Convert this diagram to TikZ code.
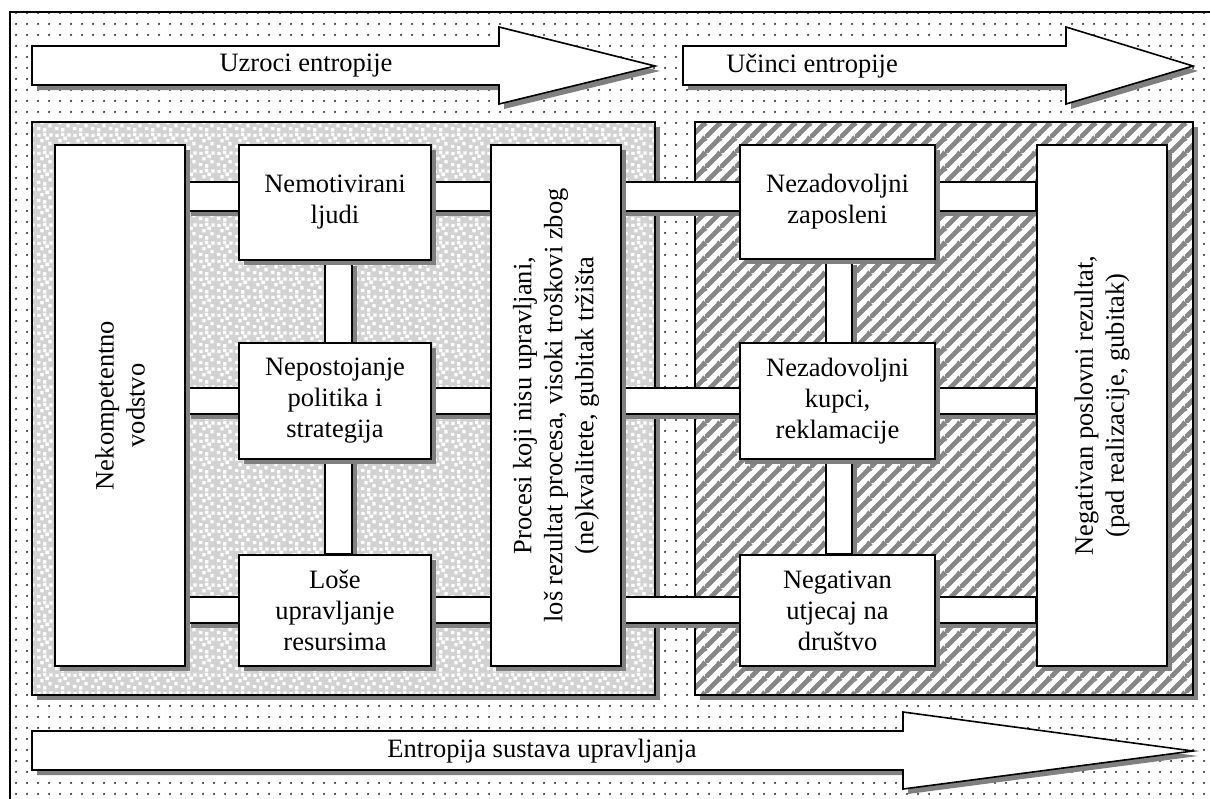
\documentclass[tikz,border=0pt]{standalone}
\usepackage{fontspec}
\setmainfont{Liberation Serif}
\usetikzlibrary{patterns,shadows}
\definecolor{shadowgray}{RGB}{128,128,128}
\definecolor{speckgray}{RGB}{210,210,210}
\definecolor{stripegray}{RGB}{135,135,135}
\definecolor{dotgray}{RGB}{50,50,50}
\newcommand\dfont{\fontsize{26.5pt}{31pt}\selectfont}
\pgfdeclarepatternformonly{bgdots}{\pgfpointorigin}{\pgfpoint{11pt}{11pt}}{\pgfpoint{11pt}{11pt}}{%
  \pgfpathcircle{\pgfpoint{5.5pt}{5.5pt}}{1.3pt}\pgfusepath{fill}}
\pgfdeclarepatternformonly{speckle}{\pgfpointorigin}{\pgfpoint{18pt}{18pt}}{\pgfpoint{18pt}{18pt}}{%
  \pgfpathrectangle{\pgfpoint{1pt}{2pt}}{\pgfpoint{3.5pt}{3.5pt}}%
  \pgfpathrectangle{\pgfpoint{7.5pt}{0.5pt}}{\pgfpoint{3.5pt}{3.5pt}}%
  \pgfpathrectangle{\pgfpoint{13pt}{5pt}}{\pgfpoint{3.5pt}{3.5pt}}%
  \pgfpathrectangle{\pgfpoint{4.5pt}{8pt}}{\pgfpoint{3.5pt}{3.5pt}}%
  \pgfpathrectangle{\pgfpoint{10pt}{10.5pt}}{\pgfpoint{3.5pt}{3.5pt}}%
  \pgfpathrectangle{\pgfpoint{14pt}{14pt}}{\pgfpoint{3.5pt}{3.5pt}}%
  \pgfpathrectangle{\pgfpoint{1.5pt}{13.5pt}}{\pgfpoint{3.5pt}{3.5pt}}%
  \pgfpathrectangle{\pgfpoint{7.5pt}{14.5pt}}{\pgfpoint{3.5pt}{3.5pt}}%
  \pgfusepath{fill}}
\pgfdeclarepatternformonly{stripes}{\pgfpointorigin}{\pgfpoint{15pt}{15pt}}{\pgfpoint{15pt}{15pt}}{%
  \pgfsetlinewidth{5pt}%
  \pgfpathmoveto{\pgfpoint{-1pt}{-1pt}}\pgfpathlineto{\pgfpoint{16pt}{16pt}}%
  \pgfpathmoveto{\pgfpoint{-1pt}{14pt}}\pgfpathlineto{\pgfpoint{1pt}{16pt}}%
  \pgfpathmoveto{\pgfpoint{14pt}{-1pt}}\pgfpathlineto{\pgfpoint{16pt}{1pt}}%
  \pgfusepath{stroke}}
\pgfdeclarelayer{back}
\pgfdeclarelayer{mid}
\pgfsetlayers{back,mid,main}
\begin{document}
\begin{tikzpicture}[x=1pt,y=-1pt,
  shad/.style={drop shadow={shadow xshift=5pt,shadow yshift=-5pt,fill=shadowgray,opacity=1}},
  box/.style={draw,line width=1.6pt,fill=white,shad,align=center,font=\dfont,inner sep=0pt},
  bar/.style={draw,line width=1.6pt,fill=white,shad},
  arr/.style={draw,line width=1.6pt,fill=white,shad,line join=miter},
  lbl/.style={font=\dfont,align=center,inner sep=0pt}]
\useasboundingbox (0,0) rectangle (1210,798);
\clip (0,0) rectangle (1210,798);

% boxes (main layer)
\node[box,minimum width=130pt,minimum height=521pt] (nek) at (120,405.5) {};
\node[lbl,rotate=90] (nekt) at (nek.center) {Nekompetentno\\vodstvo};
\node[box,minimum width=192pt,minimum height=115pt] (nem) at (335,202.5) {Nemotivirani\\ljudi};
\node[box,minimum width=192pt,minimum height=116pt] (nep) at (335,401) {Nepostojanje\\politika i\\strategija};
\node[box,minimum width=192pt,minimum height=111pt] (los) at (335,610.5) {Loše\\upravljanje\\resursima};
\node[box,minimum width=130pt,minimum height=521pt] (pro) at (556,405.5) {};
\node[lbl,rotate=90] (prot) at (pro.center) {Procesi koji nisu upravljani,\\loš rezultat procesa, visoki troškovi zbog\\(ne)kvalitete, gubitak tržišta};
\node[box,minimum width=195pt,minimum height=114pt] (zap) at (837.5,202) {Nezadovoljni\\zaposleni};
\node[box,minimum width=195pt,minimum height=116pt] (kup) at (837.5,401) {Nezadovoljni\\kupci,\\reklamacije};
\node[box,minimum width=195pt,minimum height=111pt] (drs) at (837.5,610.5) {Negativan\\utjecaj na\\društvo};
\node[box,minimum width=130pt,minimum height=521pt] (neg) at (1102,405.5) {};
\node[lbl,rotate=90] (negt) at (neg.center) {Negativan poslovni rezultat,\\(pad realizacije, gubitak)};

% bars (mid layer)
\begin{pgfonlayer}{mid}
\draw[bar] (nek.east |- 0,182) rectangle (neg.west |- 0,211);
\draw[bar] (nek.east |- 0,388) rectangle (neg.west |- 0,414);
\draw[bar] (nek.east |- 0,597) rectangle (neg.west |- 0,623);
\draw[bar] (325,0 |- nem.south) rectangle (352,0 |- los.north);
\draw[bar] (826,0 |- zap.south) rectangle (852,0 |- drs.north);
\end{pgfonlayer}

% background (back layer)
\begin{pgfonlayer}{back}
\fill[white] (0,0) rectangle (1210,798);
\fill[pattern=bgdots,pattern color=dotgray] (10,12) rectangle (1215,805);
\draw[line width=1.3pt] (10,805) -- (10,12) -- (1215,12);
% arrows
\draw[arr] (32,46) -- (499,46) -- (499,27) -- (655,66) -- (499,104) -- (499,85) -- (32,85) -- cycle;
\node[lbl] (u1) at (306,66) {Uzroci entropije};
\draw[arr] (683,46) -- (1066,46) -- (1066,27) -- (1193,66) -- (1066,104) -- (1066,85) -- (683,85) -- cycle;
\node[lbl] (u2) at (812,66) {Učinci entropije};
\draw[arr] (32,731) -- (903,731) -- (903,712) -- (1193,751) -- (903,789) -- (903,770) -- (32,770) -- cycle;
\node[lbl] (u3) at (542,751) {Entropija sustava upravljanja};
% panels
\fill[shadowgray] (37,127) rectangle (660,700);
\fill[speckgray] (32,122) rectangle (655,695);
\fill[pattern=speckle,pattern color=white] (32,122) rectangle (655,695);
\draw[line width=1.6pt] (32,122) rectangle (655,695);
\fill[shadowgray] (700,127) rectangle (1198,700);
\fill[white] (695,122) rectangle (1193,695);
\fill[pattern=stripes,pattern color=stripegray] (695,122) rectangle (1193,695);
\draw[line width=1.6pt] (695,122) rectangle (1193,695);
\end{pgfonlayer}
\end{tikzpicture}
\end{document}
